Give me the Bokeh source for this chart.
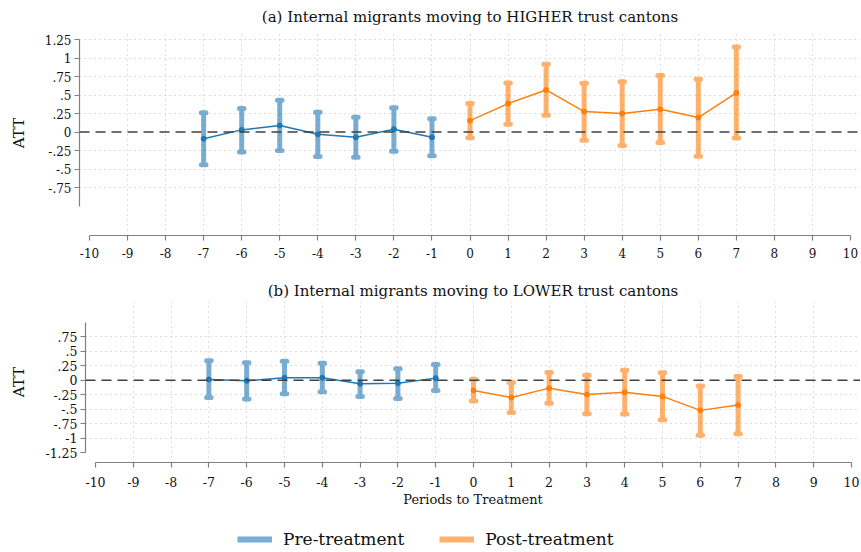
from bokeh.plotting import figure
from bokeh.models import (FixedTicker, Span, Legend, LegendItem, Title)
from bokeh.layouts import column, row
from bokeh.embed import file_html
from bokeh.resources import INLINE

# ---------------- data ----------------
periods_pre = [-7, -6, -5, -4, -3, -2, -1]
periods_post = [0, 1, 2, 3, 4, 5, 6, 7]

top_pre_att = [-0.09, 0.03, 0.09, -0.03, -0.07, 0.04, -0.07]
top_pre_lo = [-0.44, -0.27, -0.25, -0.33, -0.34, -0.26, -0.32]
top_pre_hi = [0.26, 0.32, 0.43, 0.27, 0.20, 0.33, 0.18]
top_post_att = [0.155, 0.385, 0.57, 0.277, 0.25, 0.308, 0.196, 0.53]
top_post_lo = [-0.077, 0.106, 0.227, -0.11, -0.182, -0.142, -0.327, -0.079]
top_post_hi = [0.387, 0.665, 0.917, 0.66, 0.682, 0.764, 0.714, 1.151]

bot_pre_att = [0.012, -0.011, 0.041, 0.041, -0.062, -0.052, 0.035]
bot_pre_lo = [-0.30, -0.327, -0.235, -0.20, -0.281, -0.316, -0.178]
bot_pre_hi = [0.334, 0.30, 0.328, 0.293, 0.145, 0.196, 0.27]
bot_post_att = [-0.178, -0.30, -0.138, -0.247, -0.207, -0.281, -0.522, -0.431]
bot_post_lo = [-0.362, -0.56, -0.40, -0.58, -0.586, -0.683, -0.953, -0.924]
bot_post_hi = [0.017, -0.04, 0.133, 0.086, 0.172, 0.127, -0.103, 0.064]

x_ticks = list(range(-10, 11))
x_labels = [str(v) for v in x_ticks]
top_y_ticks = [-0.75, -0.5, -0.25, 0, 0.25, 0.5, 0.75, 1, 1.25]
top_y_labels = ["-.75", "-.5", "-.25", "0", ".25", ".5", ".75", "1", "1.25"]
bot_y_ticks = [-1.25, -1, -0.75, -0.5, -0.25, 0, 0.25, 0.5, 0.75]
bot_y_labels = ["-1.25", "-1", "-.75", "-.5", "-.25", "0", ".25", ".5", ".75"]

title_a = "(a) Internal migrants moving to HIGHER trust cantons"
title_b = "(b) Internal migrants moving to LOWER trust cantons"
y_label = "ATT"
x_label = "Periods to Treatment"
legend_labels = ["Pre-treatment", "Post-treatment"]

# ---------------- style ----------------
BLUE = "#1f77b4"
ORANGE = "#ff7f0e"
FONT = "DejaVu Serif"
CAP = 0.06
AXIS_COLOR = "#808080"


def rcap_paths(xs, lo, hi):
    pxs, pys = [], []
    for x, l, h in zip(xs, lo, hi):
        pxs.append([x - CAP, x + CAP, x, x, x - CAP, x + CAP])
        pys.append([h, h, h, l, l, l])
    return pxs, pys


def panel(title, width, height, mb, xr, yr, yticks, ylabels, ybounds, xlab=None,
          tick_size="12px", title_standoff=4, x_standoff=9):
    p = figure(width=width, height=height, x_range=xr, y_range=yr,
               output_backend="svg", toolbar_location=None,
               min_border_left=mb[0], min_border_right=mb[1],
               min_border_top=mb[2], min_border_bottom=mb[3])
    p.outline_line_color = None
    p.background_fill_color = "white"
    p.border_fill_color = "white"
    t = Title(text=title, align="center", text_font=FONT, text_font_size="15px",
              text_font_style="normal", text_color="#111111", standoff=title_standoff)
    p.add_layout(t, "above")

    xa = p.xaxis[0]
    xa.ticker = FixedTicker(ticks=x_ticks)
    xa.bounds = (-10, 10)
    xa.major_label_overrides = {float(k): v for k, v in zip(x_ticks, x_labels)}
    ya = p.yaxis[0]
    ya.ticker = FixedTicker(ticks=yticks)
    ya.bounds = ybounds
    ya.major_label_overrides = {float(k): v for k, v in zip(yticks, ylabels)}
    ya.axis_label = y_label
    ya.axis_label_standoff = 14
    ya.axis_label_text_font_size = "15px"
    if xlab:
        xa.axis_label = xlab
        xa.axis_label_standoff = 2
        xa.axis_label_text_font_size = "13px"
    for ax in (xa, ya):
        ax.axis_line_color = AXIS_COLOR
        ax.axis_line_width = 1.2
        ax.major_tick_line_color = AXIS_COLOR
        ax.major_tick_line_width = 1.2
        ax.major_tick_out = 5
        ax.major_tick_in = 0
        ax.minor_tick_line_color = None
        ax.major_label_text_font = FONT
        ax.major_label_text_font_size = tick_size
        ax.major_label_text_color = "#111111"
        ax.axis_label_text_font = FONT
        ax.axis_label_text_font_style = "normal"
        ax.axis_label_text_color = "#111111"
    ya.major_label_standoff = 3
    xa.major_label_standoff = x_standoff

    p.xgrid.ticker = FixedTicker(ticks=[v for v in x_ticks if -10 < v < 10])
    return p


def style_grid(p, yg):
    p.ygrid.ticker = FixedTicker(ticks=yg)
    for g in (p.xgrid, p.ygrid):
        g.grid_line_color = "#bdbdbd"
        g.grid_line_dash = "1 4"
        g.grid_line_width = 1


def add_series(p, xs, att, lo, hi, color):
    pxs, pys = rcap_paths(xs, lo, hi)
    p.multi_line(pxs, pys, line_color=color, line_alpha=0.6, line_width=5,
                 line_cap="round", line_join="round")
    p.line(xs, att, line_color=color, line_width=1.5)
    p.scatter(xs, att, size=5, color=color)


def zero_line(p):
    p.add_layout(Span(location=0, dimension="width", line_color="#404040",
                      line_width=1.5, line_dash="10 6"))


# ---------------- top panel ----------------
pa = panel(title_a, 860, 270, (79, 0, 30, 35), (-10.2628, 10.2628), (-1.397, 1.373),
           top_y_ticks, top_y_labels, (-1, 1.25), title_standoff=9, x_standoff=7)
style_grid(pa, [v for v in top_y_ticks if v != 0])
zero_line(pa)
add_series(pa, periods_pre, top_pre_att, top_pre_lo, top_pre_hi, BLUE)
add_series(pa, periods_post, top_post_att, top_post_lo, top_post_hi, ORANGE)

# ---------------- bottom panel ----------------
pb = panel(title_b, 860, 242, (85, 0, 31, 50), (-10.2646, 10.2381), (-1.4224, 1.3586),
           bot_y_ticks, bot_y_labels, (-1.25, 1), xlab=x_label, tick_size="12.5px",
           x_standoff=9, title_standoff=4)
style_grid(pb, [v for v in bot_y_ticks if v not in (0, -1.25)])
zero_line(pb)
add_series(pb, periods_pre, bot_pre_att, bot_pre_lo, bot_pre_hi, BLUE)
add_series(pb, periods_post, bot_post_att, bot_post_lo, bot_post_hi, ORANGE)

# ---------------- legend ----------------
pl = figure(width=860, height=39, x_range=(0, 1), y_range=(0, 1),
            output_backend="svg", toolbar_location=None,
            x_axis_location=None, y_axis_location=None,
            min_border_left=0, min_border_right=0, min_border_top=0, min_border_bottom=0)
pl.grid.visible = False
pl.outline_line_color = None
r1 = pl.line([2, 3], [2, 3], line_color=BLUE, line_alpha=0.6, line_width=6)
r2 = pl.line([2, 3], [2, 3], line_color=ORANGE, line_alpha=0.6, line_width=6)
leg = Legend(items=[LegendItem(label=legend_labels[0], renderers=[r1]),
                    LegendItem(label=legend_labels[1], renderers=[r2])],
             orientation="horizontal", location=(237, 2),
             glyph_width=35, glyph_height=20, label_height=20,
             label_standoff=11, spacing=35, padding=0, margin=0,
             border_line_alpha=0, background_fill_alpha=0,
             label_text_font=FONT, label_text_font_size="17px", label_text_color="#111111")
pl.add_layout(leg, "center")

layout = column(row(pa), row(pb), row(pl), spacing=0)
open("out.html", "w").write(file_html(layout, INLINE))
